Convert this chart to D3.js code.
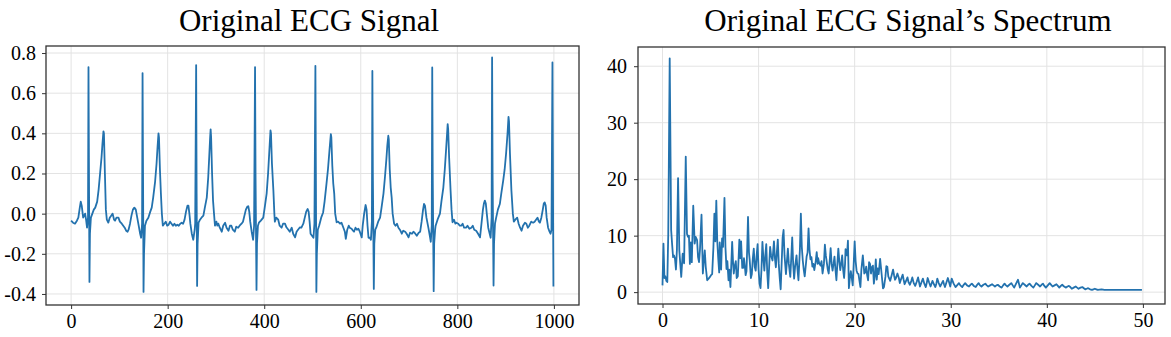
<html>
<head>
<meta charset="utf-8">
<script src="https://d3js.org/d3.v7.min.js"></script>
<style>
  body { margin: 0; background: #fff; }
  text { font-family: "Liberation Serif", "Times New Roman", serif; fill: #000; }
</style>
</head>
<body>
<svg width="1171" height="337"></svg>
<script>
// ---- data ----
// ECG sample index / amplitude (key points of the trace)
const ecgIdx = [0,4,8,12,15,18,20,22,25,27,29,31,33,35,36,37,38,39,41,44,47,50,54,57,60,63,65,67,68,70,72,74,77,80,83,86,89,91,94,98,101,105,108,111,114,117,119,122,125,128,131,134,137,140,143,145,147,148,149,150,151,153,156,160,164,167,170,174,177,179,181,182,184,186,188,190,193,196,199,202,205,208,211,214,217,220,223,226,229,232,235,238,241,243,245,247,250,253,256,257,259,260,261,262,264,267,270,274,277,281,284,286,288,289,290,292,294,296,298,301,303,305,308,312,315,319,322,326,329,332,335,339,342,346,349,353,356,359,362,365,367,369,371,374,377,379,381,382,384,385,387,389,393,398,401,405,408,411,413,414,416,419,421,422,425,429,432,436,439,443,446,450,453,457,460,464,467,470,474,477,481,484,487,490,492,494,496,499,502,504,506,507,508,509,511,514,518,522,525,529,532,535,538,539,541,543,545,547,550,553,557,560,564,567,569,572,575,577,581,584,586,589,592,595,598,602,604,607,610,612,614,616,619,621,623,624,625,627,628,630,632,636,640,643,647,650,653,655,657,658,660,662,664,666,669,672,675,678,681,685,688,692,695,699,702,706,709,713,716,720,723,726,729,731,733,736,740,743,745,747,748,749,751,752,754,755,759,764,767,771,774,777,780,781,783,786,788,790,793,796,798,802,805,808,811,814,818,821,825,829,832,835,839,843,847,850,853,855,857,859,861,864,867,869,871,872,873,875,876,878,880,884,888,891,895,898,901,904,906,907,909,912,915,917,920,924,927,930,933,936,940,943,946,949,953,957,960,963,966,969,971,974,977,979,981,983,985,988,991,993,995,997,998,999];
const ecgVal = [-0.035,-0.045,-0.05,-0.035,-0.02,0.03,0.06,0.04,-0.02,-0.01,0.0,-0.03,-0.07,-0.02,0.73,0.2,-0.34,-0.1,-0.02,0.0,0.02,0.03,0.06,0.12,0.2,0.28,0.35,0.41,0.4,0.2,0.02,-0.03,-0.045,-0.02,-0.01,0.0,-0.03,-0.035,-0.02,-0.02,-0.04,-0.05,-0.06,-0.07,-0.085,-0.09,-0.08,-0.05,-0.01,0.02,0.03,0.02,-0.02,-0.06,-0.1,-0.12,-0.05,0.70,0.2,-0.39,-0.2,-0.06,-0.035,-0.02,0.01,0.03,0.08,0.16,0.25,0.33,0.40,0.38,0.22,0.1,0.0,-0.06,-0.05,-0.04,-0.06,-0.055,-0.04,-0.05,-0.06,-0.05,-0.06,-0.055,-0.06,-0.05,-0.045,-0.05,-0.03,0.01,0.04,0.04,0.0,-0.05,-0.1,-0.13,-0.08,-0.05,0.74,0.1,-0.36,-0.15,-0.045,-0.03,-0.02,-0.01,0.03,0.08,0.18,0.28,0.38,0.42,0.38,0.2,0.065,0.0,-0.06,-0.04,-0.06,-0.05,-0.07,-0.09,-0.06,-0.045,-0.07,-0.085,-0.06,-0.06,-0.08,-0.09,-0.065,-0.07,-0.06,-0.05,-0.04,-0.01,0.02,0.035,0.037,0.01,-0.04,-0.09,-0.13,-0.06,0.73,0.2,-0.38,-0.15,-0.06,-0.045,-0.035,-0.02,0.03,0.1,0.2,0.33,0.415,0.4,0.25,0.115,0.0,-0.04,-0.02,-0.03,-0.06,-0.07,-0.05,-0.05,-0.068,-0.08,-0.09,-0.07,-0.1,-0.118,-0.09,-0.08,-0.068,-0.07,-0.05,-0.02,0.01,0.023,0.01,-0.04,-0.1,-0.11,-0.12,-0.05,0.736,0.2,-0.39,-0.2,-0.08,-0.058,-0.02,0.006,0.06,0.15,0.22,0.31,0.396,0.38,0.24,0.15,0.1,0.0,-0.043,-0.04,-0.05,-0.045,-0.07,-0.09,-0.126,-0.08,-0.06,-0.07,-0.075,-0.085,-0.09,-0.07,-0.08,-0.075,-0.09,-0.118,-0.06,0.0,0.043,0.02,-0.06,-0.12,-0.12,-0.13,-0.04,0.711,0.2,-0.375,-0.15,-0.08,-0.07,-0.04,-0.02,0.03,0.1,0.18,0.27,0.34,0.388,0.37,0.22,0.13,0.08,0.0,-0.05,-0.06,-0.05,-0.07,-0.08,-0.1,-0.085,-0.09,-0.1,-0.118,-0.095,-0.1,-0.09,-0.1,-0.11,-0.095,-0.09,-0.04,0.02,0.048,0.04,-0.02,-0.07,-0.11,-0.14,-0.06,0.728,0.2,-0.386,-0.15,-0.08,-0.06,-0.03,0.0,0.06,0.13,0.22,0.33,0.446,0.42,0.28,0.115,0.02,-0.043,-0.03,-0.05,-0.045,-0.05,-0.06,-0.06,-0.05,-0.07,-0.07,-0.06,-0.075,-0.07,-0.06,-0.08,-0.085,-0.1,-0.118,-0.05,0.02,0.05,0.065,0.05,0.0,-0.07,-0.1,-0.12,-0.02,0.778,0.2,-0.358,-0.15,-0.05,-0.025,0.02,0.048,0.1,0.164,0.22,0.3,0.4,0.482,0.46,0.3,0.115,0.0,-0.04,-0.03,-0.02,-0.05,-0.07,-0.085,-0.06,-0.045,-0.05,-0.07,-0.06,-0.04,-0.045,-0.04,-0.03,-0.02,-0.04,-0.045,-0.02,0.02,0.05,0.056,0.04,-0.02,-0.07,-0.09,-0.1,-0.08,0.753,0.2,-0.363];

// spectrum frequency (Hz) / magnitude
const specFreq = [0,0.1,0.2,0.3,0.4,0.5,0.6,0.75,0.9,1.0,1.1,1.2,1.3,1.4,1.5,1.62,1.75,1.85,1.95,2.1,2.25,2.42,2.55,2.65,2.75,2.85,2.95,3.05,3.2,3.35,3.45,3.6,3.7,3.8,3.9,4.06,4.2,4.3,4.4,4.5,4.65,4.8,4.9,5.05,5.17,5.3,5.4,5.5,5.6,5.7,5.8,5.9,5.96,6.1,6.2,6.3,6.45,6.55,6.66,6.75,6.87,6.95,7.07,7.15,7.25,7.35,7.42,7.5,7.63,7.72,7.84,7.92,8.0,8.1,8.18,8.3,8.4,8.48,8.56,8.65,8.74,8.82,8.9,9.0,9.07,9.2,9.3,9.4,9.5,9.6,9.7,9.8,9.9,10.0,10.1,10.2,10.3,10.4,10.5,10.6,10.7,10.8,10.9,11.0,11.1,11.2,11.3,11.45,11.6,11.7,11.8,11.9,12.0,12.1,12.2,12.3,12.4,12.5,12.6,12.7,12.85,12.95,13.05,13.15,13.3,13.4,13.5,13.6,13.7,13.8,13.95,14.05,14.15,14.3,14.4,14.5,14.6,14.7,14.8,14.9,15.0,15.1,15.2,15.3,15.4,15.5,15.6,15.7,15.8,15.95,16.05,16.15,16.2,16.3,16.45,16.55,16.66,16.8,16.9,17.0,17.05,17.2,17.3,17.4,17.5,17.6,17.7,17.8,17.9,18.0,18.1,18.2,18.3,18.4,18.5,18.6,18.7,18.8,18.9,19.0,19.05,19.2,19.3,19.4,19.5,19.6,19.7,19.8,19.9,20.0,20.1,20.2,20.3,20.4,20.5,20.6,20.7,20.85,20.95,21.0,21.1,21.2,21.3,21.4,21.5,21.6,21.7,21.8,21.9,22.0,22.1,22.2,22.3,22.4,22.5,22.65,22.8,22.95,23.05,23.2,23.3,23.4,23.5,23.7,23.85,24.0,24.1,24.2,24.3,24.45,24.6,24.7,24.85,25.0,25.1,25.2,25.35,25.5,25.6,25.75,25.9,26.0,26.15,26.3,26.45,26.6,26.7,26.8,26.95,27.1,27.25,27.4,27.5,27.6,27.75,27.9,28.0,28.1,28.25,28.4,28.5,28.6,28.75,28.9,29.05,29.2,29.3,29.4,29.55,29.7,29.85,29.95,30.1,30.3,30.5,30.7,30.85,31.0,31.2,31.35,31.5,31.7,31.9,32.05,32.2,32.4,32.6,32.75,32.9,33.05,33.2,33.4,33.6,33.75,33.9,34.1,34.3,34.45,34.6,34.75,34.9,35.1,35.3,35.45,35.6,35.75,35.9,36.1,36.3,36.45,36.6,36.8,37.0,37.2,37.35,37.5,37.7,37.9,38.05,38.2,38.4,38.6,38.75,38.9,39.1,39.3,39.45,39.6,39.75,39.9,40.1,40.3,40.45,40.6,40.8,41.0,41.15,41.3,41.45,41.6,41.8,42.0,42.15,42.3,42.45,42.6,42.8,43.0,43.15,43.3,43.5,43.7,43.85,44.0,44.15,44.3,44.5,44.7,44.85,45.0,45.15,45.3,45.5,45.7,46.0,47.0,48.0,49.0,49.9];
const specAmp = [1.2,8.6,2.5,2.8,2.0,1.8,10.3,41.4,11.0,8.5,6.2,6.5,5.9,4.0,7.5,20.2,7.4,5.0,2.7,6.8,5.1,24.0,10.3,9.8,10.0,5.0,8.8,5.3,15.3,8.6,9.8,9.2,6.2,5.3,7.5,13.7,3.3,5.6,7.4,4.5,2.1,2.4,2.6,3.0,3.2,8.0,13.9,9.0,16.2,9.0,6.0,3.5,8.8,4.0,9.5,8.0,16.7,8.0,4.1,5.5,2.1,4.0,0.9,4.5,8.9,5.0,3.3,4.5,5.5,2.5,2.8,6.0,9.3,6.0,9.0,4.3,4.3,6.0,4.8,3.0,3.7,8.0,13.3,7.0,5.8,2.5,3.2,6.0,7.7,4.5,3.8,6.5,8.5,4.0,1.5,0.7,4.0,8.9,6.0,3.8,6.5,8.5,3.5,0.7,4.5,8.0,6.5,5.6,9.0,6.0,4.4,7.0,9.3,5.0,2.5,0.5,5.0,9.6,11.0,6.5,3.2,5.5,7.7,5.0,2.7,6.0,9.7,5.0,2.4,4.5,6.5,4.0,2.1,7.5,13.9,8.0,5.6,4.0,2.8,4.5,6.3,7.0,11.3,7.5,5.8,6.2,4.5,5.0,3.9,5.5,7.1,5.0,6.0,5.2,4.7,5.5,3.3,5.0,8.4,6.5,5.9,4.0,3.3,5.5,7.8,5.0,3.8,5.0,6.3,4.0,2.1,5.0,7.7,5.5,3.9,5.0,6.5,4.0,2.5,5.0,7.6,6.5,9.1,0.7,2.5,3.7,2.5,1.2,5.0,9.0,5.5,3.8,3.3,3.2,2.0,0.9,4.0,6.5,4.5,3.3,3.5,4.5,3.0,2.1,5.3,5.0,3.3,4.4,4.7,1.5,2.9,5.8,2.2,4.2,3.2,5.9,3.3,0.65,0.9,2.7,4.6,4.5,2.8,2.0,3.0,4.0,3.0,2.2,2.5,3.3,2.5,1.6,2.4,3.1,2.2,1.4,2.0,2.6,1.8,1.3,2.0,2.6,1.6,1.1,1.8,2.6,1.8,1.0,1.7,2.4,1.5,0.9,1.6,2.5,1.7,1.0,1.5,2.0,1.4,0.9,1.5,2.4,1.6,1.0,1.5,2.0,1.4,0.9,1.7,2.5,1.6,1.0,2.4,1.5,0.9,1.3,1.6,1.2,0.9,1.3,1.6,1.2,1.0,1.3,1.5,1.1,0.9,1.3,1.6,1.2,1.0,1.3,1.5,1.2,1.0,1.2,1.4,1.2,1.0,1.2,1.3,1.0,0.8,1.2,1.5,1.2,1.0,1.3,1.6,1.2,0.8,1.5,2.2,0.8,1.2,1.6,1.3,1.0,1.3,1.5,1.1,0.8,1.2,1.6,1.3,1.0,1.3,1.5,1.1,0.8,1.2,1.6,1.3,1.0,1.2,1.4,1.1,0.8,1.1,1.3,1.0,0.8,1.0,1.1,0.9,0.6,0.8,1.0,0.8,0.6,0.8,0.9,0.7,0.5,0.6,0.7,0.5,0.4,0.5,0.6,0.5,0.4,0.45,0.5,0.4,0.4,0.4,0.4,0.4];

// tick labels
const ecgXTicks = [0,200,400,600,800,1000];
const ecgYTicks = [-0.4,-0.2,0.0,0.2,0.4,0.6,0.8];
const specXTicks = [0,10,20,30,40,50];
const specYTicks = [0,10,20,30,40];

const lineColor = '#2372ae';
const svg = d3.select('svg');

function panel(opt) {
  const x = d3.scaleLinear().domain(opt.xdomain).range([opt.left, opt.right]);
  const y = d3.scaleLinear().domain(opt.ydomain).range([opt.bottom, opt.top]);
  const w = opt.right - opt.left, h = opt.bottom - opt.top;

  // grid
  const grid = svg.append('g').attr('stroke', '#e3e3e3').attr('stroke-width', 1);
  grid.selectAll('.gx').data(opt.xticks).enter().append('line')
    .attr('x1', d => x(d)).attr('x2', d => x(d))
    .attr('y1', opt.top).attr('y2', opt.bottom);
  grid.selectAll('.gy').data(opt.yticks).enter().append('line')
    .attr('x1', opt.left).attr('x2', opt.right)
    .attr('y1', d => y(d)).attr('y2', d => y(d));

  // series
  const pts = opt.xs.map((v, i) => [v, opt.ys[i]]);
  svg.append('path')
    .datum(pts)
    .attr('fill', 'none')
    .attr('stroke', lineColor)
    .attr('stroke-width', 1.8)
    .attr('stroke-linejoin', 'round')
    .attr('d', d3.line().x(d => x(d[0])).y(d => y(d[1])));

  // axes
  const xa = svg.append('g')
    .attr('transform', 'translate(0,' + opt.bottom + ')')
    .call(d3.axisBottom(x).tickValues(opt.xticks).tickSize(4).tickPadding(5).tickFormat(opt.xfmt));
  const ya = svg.append('g')
    .attr('transform', 'translate(' + opt.left + ',0)')
    .call(d3.axisLeft(y).tickValues(opt.yticks).tickSize(4).tickPadding(opt.ypad).tickFormat(opt.yfmt));
  [xa, ya].forEach(a => {
    a.select('.domain').remove();
    a.selectAll('line').attr('stroke', '#333');
    a.selectAll('text').attr('font-size', 20).attr('font-family', '"Liberation Serif", serif').attr('fill', '#000');
  });

  // frame
  svg.append('rect')
    .attr('x', opt.left).attr('y', opt.top)
    .attr('width', w).attr('height', h)
    .attr('fill', 'none').attr('stroke', '#333').attr('stroke-width', 1.3);

  svg.append('text')
    .attr('x', opt.titleX).attr('y', 31)
    .attr('text-anchor', 'middle')
    .attr('font-size', 31)
    .text(opt.title);
}

panel({
  left: 46, right: 579, top: 46, bottom: 305,
  xdomain: [-52, 1052], ydomain: [-0.455, 0.835],
  xs: ecgIdx, ys: ecgVal,
  xticks: ecgXTicks, yticks: ecgYTicks,
  xfmt: d => String(d), yfmt: d => d.toFixed(1), ypad: 6,
  title: 'Original ECG Signal', titleX: 309
});

panel({
  left: 638, right: 1165, top: 47, bottom: 304,
  xdomain: [-2.55, 52.3], ydomain: [-2.1, 43.4],
  xs: specFreq, ys: specAmp,
  xticks: specXTicks, yticks: specYTicks,
  xfmt: d => String(d), yfmt: d => String(d), ypad: 7,
  title: 'Original ECG Signal\u2019s Spectrum', titleX: 908
});
</script>
</body>
</html>
